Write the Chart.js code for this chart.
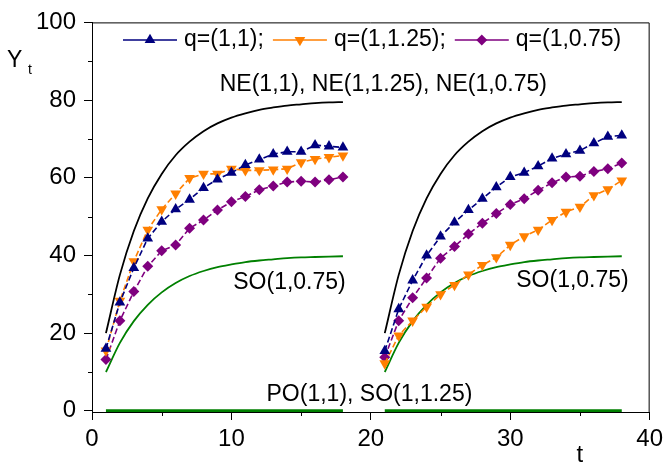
<!DOCTYPE html>
<html>
<head>
<meta charset="utf-8">
<script src="https://cdn.jsdelivr.net/npm/chart.js@4/dist/chart.umd.min.js"></script>
<style>
  html, body { margin: 0; padding: 0; background: #fff; }
  #wrap { width: 668px; height: 462px; position: relative; }
</style>
</head>
<body>
<div id="wrap"><canvas id="graphCanvas"></canvas></div>
<script>
// 時点（左ブロック・右ブロック）
const tLeft = [1, 2, 3, 4, 5, 6, 7, 8, 9, 10, 11, 12, 13, 14, 15, 16, 17, 18];
const tRight = [21, 22, 23, 24, 25, 26, 27, 28, 29, 30, 31, 32, 33, 34, 35, 36, 37, 38];

// q=(1,1)
const blueLeft = [16.0, 27.9, 36.8, 44.4, 48.7, 51.9, 54.4, 57.4, 59.6, 61.3, 63.3, 64.7, 66.1, 66.7, 66.7, 68.4, 68.1, 67.8];
const blueRight = [15.4, 26.2, 33.6, 40.0, 44.9, 48.5, 51.7, 54.6, 57.6, 60.2, 61.3, 63.0, 65.0, 66.1, 67.0, 68.9, 70.6, 70.9];
// q=(1,1.25)
const orangeLeft = [15.5, 28.3, 38.5, 46.6, 51.9, 55.9, 59.9, 61.0, 61.0, 62.3, 61.9, 61.9, 62.1, 62.3, 64.0, 64.8, 65.3, 65.7];
const orangeRight = [12.2, 19.4, 23.2, 26.8, 30.0, 32.4, 35.1, 37.5, 39.5, 42.7, 44.9, 46.6, 49.1, 51.2, 52.5, 55.5, 57.0, 59.3];
// q=(1,0.75)
const purpleLeft = [13.2, 23.2, 30.7, 37.2, 41.2, 42.7, 47.0, 49.1, 51.7, 53.8, 55.2, 56.9, 57.9, 58.9, 59.1, 58.9, 59.5, 60.2];
const purpleRight = [13.8, 23.2, 29.1, 34.2, 39.3, 42.3, 45.5, 48.3, 50.8, 53.1, 54.6, 56.8, 58.7, 60.2, 60.4, 61.6, 62.3, 63.8];
// NE 曲線（黒）と SO(1,0.75) 曲線（緑）、PO/SO(1,1.25) のゼロ線
const neCurve = [20.0, 35.0, 46.3, 54.7, 61.0, 65.8, 69.3, 72.0, 74.0, 75.5, 76.6, 77.5, 78.1, 78.6, 78.9, 79.2, 79.4, 79.5];
const soCurve = [10.0, 17.5, 23.1, 27.3, 30.5, 32.9, 34.7, 36.0, 37.0, 37.7, 38.3, 38.7, 39.0, 39.3, 39.5, 39.6, 39.7, 39.8];
const zeroCurve = [0, 0, 0, 0, 0, 0, 0, 0, 0, 0, 0, 0, 0, 0, 0, 0, 0, 0];

// 目盛
const xTicks = [0, 10, 20, 30, 40];
const xMinorTicks = [5, 15, 25, 35];
const yTicks = [0, 20, 40, 60, 80, 100];
const yMinorTicks = [10, 30, 50, 70, 90];

const legendLabels = ["q=(1,1);", "q=(1,1.25);", "q=(1,0.75)"];
// 注記 [テキスト, t, Y, 揃え]
const notes = [
  ["NE(1,1), NE(1,1.25), NE(1,0.75)", 20.9, 83.9, "center"],
  ["SO(1,0.75)", 18.2, 33.1, "right"],
  ["SO(1,0.75)", 38.5, 33.4, "right"],
  ["PO(1,1), SO(1,1.25)", 19.9, 4.2, "center"],
];

const FONT = "'Liberation Sans', Arial, sans-serif";

/** 左右ブロックを null で区切って1本のデータにする */
const joinHalves = (left, right) => [
  ...tLeft.map((t, i) => ({ x: t, y: left[i] })),
  { x: 19.5, y: null },
  ...tRight.map((t, i) => ({ x: t, y: right[i] })),
];

const markerSet = (label, color, style, rot, left, right) => ({
  label,
  data: joinHalves(left, right),
  borderColor: color,
  backgroundColor: color,
  borderWidth: 1.6,
  borderDash: [6, 3],
  pointStyle: style,
  rotation: rot,
  pointRadius: style === "rectRot" ? 5.5 : 6.2,
  pointBorderWidth: 0,
  tension: 0,
});

const curveSet = (color, width, vals) => ({
  data: joinHalves(vals, vals),
  borderColor: color,
  borderWidth: width,
  pointRadius: 0,
  cubicInterpolationMode: "monotone",
});

// 枠・副目盛・凡例・注記
const decorPlugin = {
  id: "decor",
  afterDraw(chart) {
    const { ctx, chartArea: a, scales } = chart;
    const xs = scales.x, ys = scales.y;
    ctx.save();
    ctx.strokeStyle = "#000";
    ctx.lineWidth = 1;
    ctx.beginPath();
    ctx.moveTo(a.left, a.top + 0.5);
    ctx.lineTo(a.right - 0.5, a.top + 0.5);
    ctx.lineTo(a.right - 0.5, a.bottom);
    ctx.stroke();

    // 副目盛
    ctx.beginPath();
    xMinorTicks.forEach((v) => {
      const px = Math.round(xs.getPixelForValue(v)) + 0.5;
      ctx.moveTo(px, a.bottom);
      ctx.lineTo(px, a.bottom + 4);
    });
    yMinorTicks.forEach((v) => {
      const py = Math.round(ys.getPixelForValue(v)) + 0.5;
      ctx.moveTo(a.left, py);
      ctx.lineTo(a.left - 4, py);
    });
    ctx.stroke();

    // 凡例（プロット内）
    ctx.font = "23px " + FONT;
    ctx.textBaseline = "middle";
    let lx = a.left + 31;
    const ly = 40;
    chart.data.datasets.slice(0, 3).forEach((ds, i) => {
      ctx.strokeStyle = ds.borderColor;
      ctx.fillStyle = ds.backgroundColor;
      ctx.lineWidth = 1.6;
      ctx.beginPath();
      ctx.moveTo(lx, ly);
      ctx.lineTo(lx + 54, ly);
      ctx.stroke();
      Chart.helpers.drawPoint(ctx, {
        pointStyle: ds.pointStyle, rotation: ds.rotation,
        radius: ds.pointRadius, borderWidth: 0,
      }, lx + 27, ly);
      ctx.fillStyle = "#000";
      ctx.textAlign = "left";
      ctx.fillText(legendLabels[i], lx + 61, ly);
      lx += 61 + ctx.measureText(legendLabels[i]).width + 9;
    });

    // 注記
    ctx.font = "23px " + FONT;
    ctx.fillStyle = "#000";
    notes.forEach(([text, t, v, align]) => {
      ctx.textAlign = align;
      ctx.fillText(text, xs.getPixelForValue(t), ys.getPixelForValue(v));
    });

    // 軸タイトル
    ctx.textAlign = "left";
    ctx.font = "23px " + FONT;
    ctx.fillText("Y", 7, 61);
    ctx.font = "14px " + FONT;
    ctx.fillText("t", 28, 70);
    ctx.font = "24px " + FONT;
    ctx.textAlign = "center";
    ctx.fillText("t", xs.getPixelForValue(35), 455);
    ctx.restore();
  },
};

const ctx = document.getElementById("graphCanvas").getContext("2d");
const graphChart = new Chart(ctx, {
  type: "line",
  data: {
    datasets: [
      markerSet("q=(1,1)", "#00007f", "triangle", 0, blueLeft, blueRight),
      markerSet("q=(1,1.25)", "#ff7f00", "triangle", 180, orangeLeft, orangeRight),
      markerSet("q=(1,0.75)", "#7f007f", "rectRot", 0, purpleLeft, purpleRight),
      curveSet("#000000", 1.8, neCurve),
      curveSet("#008000", 1.8, soCurve),
      curveSet("#008000", 3, zeroCurve),
    ],
  },
  options: {
    animation: false,
    responsive: true,
    maintainAspectRatio: false,
    spanGaps: false,
    layout: { padding: { top: 19, right: 15, left: 0, bottom: 0 } },
    plugins: {
      legend: { display: false },
      tooltip: { enabled: false },
    },
    scales: {
      x: {
        type: "linear",
        min: 0,
        max: 40,
        afterFit: (s) => { s.height = 50; },
        afterBuildTicks: (s) => { s.ticks = xTicks.map((v) => ({ value: v })); },
        ticks: { color: "#000", padding: 5, font: { family: FONT, size: 24 }, maxRotation: 0 },
        grid: { drawOnChartArea: false, tickLength: 8, tickColor: "#000" },
        border: { color: "#000", width: 1 },
      },
      y: {
        type: "linear",
        min: -0.3,
        max: 100,
        afterFit: (s) => { s.width = 92; },
        afterBuildTicks: (s) => { s.ticks = yTicks.map((v) => ({ value: v })); },
        ticks: { color: "#000", padding: 8, font: { family: FONT, size: 24 } },
        grid: { drawOnChartArea: false, tickLength: 8, tickColor: "#000" },
        border: { color: "#000", width: 1 },
      },
    },
  },
  plugins: [decorPlugin],
});
</script>
</body>
</html>
